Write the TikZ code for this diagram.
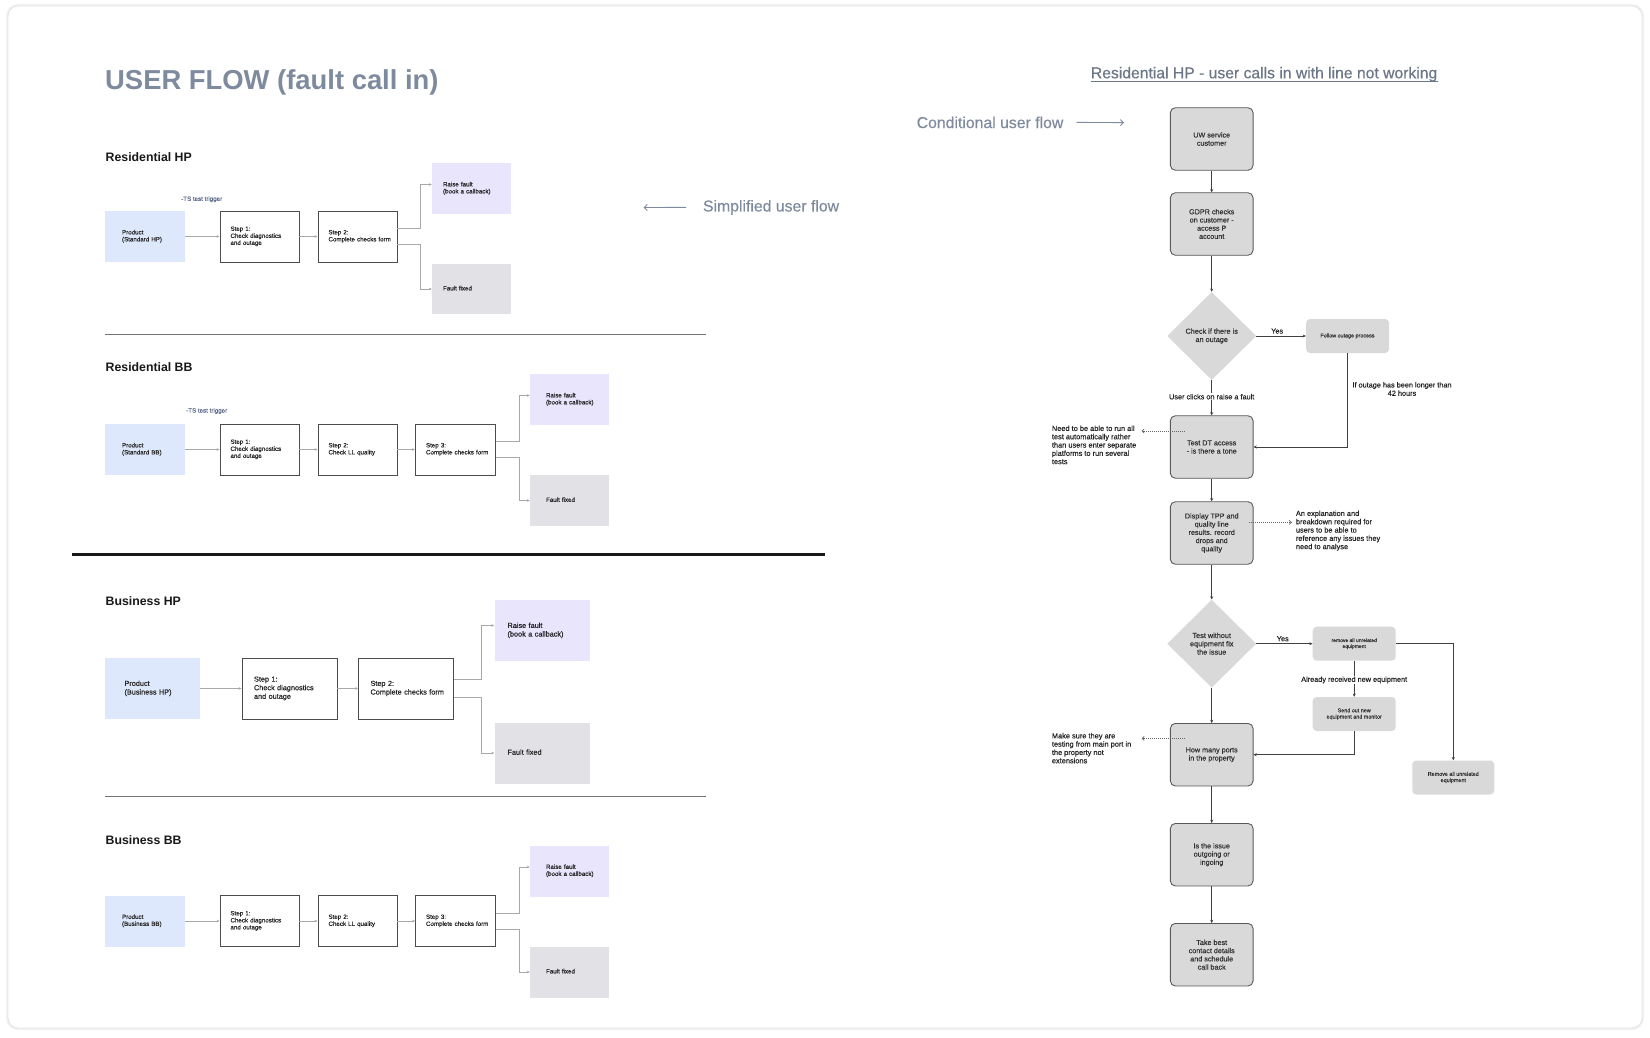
\documentclass[tikz,border=0pt]{standalone}
\usepackage{fontspec}
\setmainfont{Liberation Sans}
\newfontfamily\medium[FakeBold=0.4]{Liberation Sans}
\usetikzlibrary{arrows.meta,shapes.geometric,calc}
\definecolor{prodblue}{HTML}{DDE8FC}
\definecolor{raisepurp}{HTML}{E8E5FD}
\definecolor{fixgray}{HTML}{E1E1E6}
\definecolor{slate}{HTML}{7E8A9D}
\definecolor{slatedark}{HTML}{6B7686}
\definecolor{flowgray}{HTML}{D9D9D9}
\definecolor{conngray}{HTML}{A8A8A8}
\definecolor{tsblue}{HTML}{5B6B8C}
\newcommand\fsz[2]{\fontsize{#1pt}{#2pt}\selectfont}
\newcommand\ltab[1]{\begin{tabular}{@{}l@{}}#1\end{tabular}}
\tikzset{
  lbox/.style={inner ysep=0pt, align=left, font=\medium\fsz{6.2}{7}, text=black!85},
  prodbox/.style={lbox, fill=prodblue},
  stepbox/.style={lbox, fill=white, draw=black!70, line width=0.9pt},
  raisebx/.style={lbox, fill=raisepurp},
  fixbox/.style={lbox, fill=fixgray},
  conn/.style={draw=conngray, line width=0.8pt, -{Stealth[length=3pt,width=2.6pt]}},
  fbox/.style={draw=black!65, line width=0.9pt, fill=flowgray, rounded corners=5pt, minimum width=82.7pt, minimum height=62.5pt, align=center, font=\medium\fsz{7.2}{8.2}, text=black!80, inner sep=0pt},
  sbox/.style={fill=flowgray, rounded corners=4pt, minimum width=83pt, minimum height=34pt, align=center, font=\medium\fsz{5.4}{6.3}, text=black!80, inner sep=0pt},
  dmd/.style={diamond, fill=flowgray, minimum width=89pt, minimum height=88pt, inner sep=0pt, align=center, font=\medium\fsz{7.3}{8.3}, text=black!80},
  fconn/.style={draw=black!75, line width=0.8pt, -{Stealth[length=3.2pt,width=3pt]}},
  dotarr/.style={draw=black!60, line width=0.7pt, dash pattern=on 1pt off 1pt, -{Straight Barb[length=2pt,width=4pt]}},
  note/.style={align=left, font=\medium\fsz{7.4}{8.3}, text=black!85, inner sep=0pt, anchor=north west},
  lab/.style={font=\medium\fsz{7.3}{8.3}, text=black!85, inner sep=1pt},
  sectitle/.style={font=\bfseries\fsz{12.3}{14}, text=black!90, anchor=base west, inner sep=0pt},
  tstext/.style={font=\medium\fsz{6.2}{7}, text=tsblue, anchor=west, inner sep=0pt},
  slatearr/.style={draw=slate, line width=0.9pt, -{Straight Barb[length=3pt,width=6pt]}},
  sepline/.style={draw=black!55, line width=0.9pt},
}
\begin{document}
\begin{tikzpicture}[x=1pt,y=-1pt]
\useasboundingbox (0,0) rectangle (1650,1038);
\fill[white] (0,0) rectangle (1650,1038);
\draw[black!5, line width=4pt, rounded corners=10pt] (8,6) rectangle (1642,1028);
\draw[black!11, line width=0.8pt, rounded corners=10pt, fill=white] (8,6) rectangle (1642,1028);

% ---------- titles ----------
\node[font=\bfseries\fsz{27.4}{32}, text=slate, anchor=base west, inner sep=0pt] (title) at (105,90) {USER FLOW (fault call in)};
\node[font=\medium\fsz{15.8}{18}, text=slate, anchor=west, inner sep=0pt] (simp) at (702.8,207.4) {Simplified user flow};
\coordinate (simpEnd) at (643.7,207.5);
\draw[slatearr] ([xshift=-16.8pt]simp.west) -- (simpEnd);
\node[font=\medium\fsz{15.8}{18}, text=slate, anchor=west, inner sep=0pt] (cond) at (916.5,122.4) {Conditional user flow};
\coordinate (condEnd) at (1124,122.6);
\draw[slatearr] ([xshift=13pt]cond.east) -- (condEnd);
\node[font=\medium\fsz{15.7}{18}, text=slatedark, anchor=base west, inner sep=0pt] (rtitle) at (1090.7,78.3) {Residential HP - user calls in with line not working};
\draw[slatedark, line width=0.9pt] ([yshift=-2.8pt]rtitle.base west) -- ([yshift=-2.8pt]rtitle.base east);

% ---------- Residential HP ----------
\node[sectitle] (t1) at (105.5,161.3) {Residential HP};
\node[tstext] (ts1) at (181,199.3) {-TS test trigger};
\node[prodbox, minimum height=51pt, text width=46pt, inner xsep=17pt] (hpP) at (145,236.5) {\ltab{Product\\(Standard HP)}};
\node[stepbox, minimum height=51pt, text width=58pt, inner xsep=10.5pt] (hp1) at (259.5,236.5) {\ltab{Step 1:\\Check diagnostics\\and outage}};
\node[stepbox, minimum height=51pt, text width=58pt, inner xsep=10.5pt] (hp2) at (357.5,236.5) {\ltab{Step 2:\\Complete checks form}};
\node[raisebx, minimum height=51pt, text width=57pt, inner xsep=11pt] (hpR) at (471.5,188.5) {\ltab{Raise fault\\(book a callback)}};
\node[fixbox, minimum height=50pt, text width=57pt, inner xsep=11pt] (hpF) at (471.5,289) {\ltab{Fault fixed}};
\draw[conn] (hpP.east) -- (hp1.west);
\draw[conn] (hp1.east) -- (hp2.west);
\draw[conn] ([yshift=8pt]hp2.east) -- ++(23,0) |- ([yshift=4pt]hpR.west);
\draw[conn] ([yshift=-8pt]hp2.east) -- ++(23,0) |- (hpF.west);
\draw[sepline] (105,334.6) -- (706,334.6);

% ---------- Residential BB ----------
\node[sectitle] (t2) at (105.5,371.5) {Residential BB};
\node[tstext] (ts2) at (186,411) {-TS test trigger};
\node[prodbox, minimum height=51pt, text width=46pt, inner xsep=17pt] (bbP) at (145,449.5) {\ltab{Product\\(Standard BB)}};
\node[stepbox, minimum height=51pt, text width=58pt, inner xsep=10.5pt] (bb1) at (259.5,449.5) {\ltab{Step 1:\\Check diagnostics\\and outage}};
\node[stepbox, minimum height=51pt, text width=58pt, inner xsep=10.5pt] (bb2) at (357.5,449.5) {\ltab{Step 2:\\Check LL quality}};
\node[stepbox, minimum height=51pt, text width=59pt, inner xsep=10.5pt] (bb3) at (455.5,449.5) {\ltab{Step 3:\\Complete checks form}};
\node[raisebx, minimum height=51pt, text width=47pt, inner xsep=16pt] (bbR) at (569.5,399.5) {\ltab{Raise fault\\(book a callback)}};
\node[fixbox, minimum height=51pt, text width=47pt, inner xsep=16pt] (bbF) at (569.5,500.5) {\ltab{Fault fixed}};
\draw[conn] (bbP.east) -- (bb1.west);
\draw[conn] (bb1.east) -- (bb2.west);
\draw[conn] (bb2.east) -- (bb3.west);
\draw[conn] ([yshift=8pt]bb3.east) -- ++(23,0) |- ([yshift=4pt]bbR.west);
\draw[conn] ([yshift=-8pt]bb3.east) -- ++(23,0) |- (bbF.west);
\draw[black!90, line width=2.5pt] (71.6,554.6) -- (825,554.6);

% ---------- Business HP ----------
\node[sectitle] (t3) at (105.5,605) {Business HP};
\node[prodbox, font=\medium\fsz{7.3}{8.6}, minimum height=61pt, text width=56pt, inner xsep=19.5pt] (bzP) at (152.5,688.5) {\ltab{Product\\(Business HP)}};
\node[stepbox, font=\medium\fsz{7.3}{8.6}, minimum height=61pt, text width=71pt, inner xsep=12pt] (bz1) at (289.5,688.5) {\ltab{Step 1:\\Check diagnostics\\and outage}};
\node[stepbox, font=\medium\fsz{7.3}{8.6}, minimum height=61pt, text width=71pt, inner xsep=12pt] (bz2) at (406,688.5) {\ltab{Step 2:\\Complete checks form}};
\node[raisebx, font=\medium\fsz{7.3}{8.6}, minimum height=61pt, text width=69pt, inner xsep=13pt] (bzR) at (542,630.5) {\ltab{Raise fault\\(book a callback)}};
\node[fixbox, font=\medium\fsz{7.3}{8.6}, minimum height=61pt, text width=69pt, inner xsep=13pt] (bzF) at (542,753) {\ltab{Fault fixed}};
\draw[conn] (bzP.east) -- (bz1.west);
\draw[conn] (bz1.east) -- (bz2.west);
\draw[conn] ([yshift=9pt]bz2.east) -- ++(27.5,0) |- ([yshift=5pt]bzR.west);
\draw[conn] ([yshift=-9pt]bz2.east) -- ++(27.5,0) |- (bzF.west);
\draw[sepline] (105,796.6) -- (706,796.6);

% ---------- Business BB ----------
\node[sectitle] (t4) at (105.5,844) {Business BB};
\node[prodbox, minimum height=51pt, text width=46pt, inner xsep=17pt] (xbP) at (145,921) {\ltab{Product\\(Business BB)}};
\node[stepbox, minimum height=51pt, text width=58pt, inner xsep=10.5pt] (xb1) at (259.5,921) {\ltab{Step 1:\\Check diagnostics\\and outage}};
\node[stepbox, minimum height=51pt, text width=58pt, inner xsep=10.5pt] (xb2) at (357.5,921) {\ltab{Step 2:\\Check LL quality}};
\node[stepbox, minimum height=51pt, text width=59pt, inner xsep=10.5pt] (xb3) at (455.5,921) {\ltab{Step 3:\\Complete checks form}};
\node[raisebx, minimum height=51pt, text width=47pt, inner xsep=16pt] (xbR) at (569.5,871) {\ltab{Raise fault\\(book a callback)}};
\node[fixbox, minimum height=51pt, text width=47pt, inner xsep=16pt] (xbF) at (569.5,972) {\ltab{Fault fixed}};
\draw[conn] (xbP.east) -- (xb1.west);
\draw[conn] (xb1.east) -- (xb2.west);
\draw[conn] (xb2.east) -- (xb3.west);
\draw[conn] ([yshift=8pt]xb3.east) -- ++(23,0) |- ([yshift=4pt]xbR.west);
\draw[conn] ([yshift=-8pt]xb3.east) -- ++(23,0) |- (xbF.west);

% ---------- conditional flow ----------
\node[fbox] (uw) at (1211.7,139) {UW service\\customer};
\node[fbox] (gdpr) at (1211.7,224) {GDPR checks\\on customer -\\access P\\account};
\node[dmd] (d1) at (1211.7,336) {Check if there is\\an outage};
\node[sbox] (outage) at (1347.5,336) {Follow outage process};
\node[fbox] (testdt) at (1211.7,447) {Test DT access\\- is there a tone};
\node[fbox] (tpp) at (1211.7,533) {Display TPP and\\quality line\\results. record\\drops and\\quality};
\node[dmd] (d2) at (1211.7,643.7) {Test without\\equipment fix\\the issue};
\node[sbox, font=\medium\fsz{5}{6}] (rem1) at (1354.2,643.7) {remove all unrelated\\equipment};
\node[sbox, font=\medium\fsz{5.4}{6.3}] (send) at (1354.2,714) {Send out new\\equipment and monitor};
\node[sbox, minimum width=82pt] (remall) at (1453.3,777.5) {Remove all unrelated\\equipment};
\node[fbox] (ports) at (1211.7,754.7) {How many ports\\in the property};
\node[fbox] (issue) at (1211.7,854.7) {Is the issue\\outgoing or\\ingoing};
\node[fbox] (take) at (1211.7,954.7) {Take best\\contact details\\and schedule\\call back};

\node[lab, align=center] (olab) at (1402,389) {If outage has been longer than\\42 hours};

\draw[fconn] (uw.south) -- (gdpr.north);
\draw[fconn] (gdpr.south) -- (d1.north);
\draw[fconn] (d1.east) -- node[lab, above, pos=0.42, yshift=1pt] {Yes} (outage.west);
\draw[fconn] (d1.south) -- node[lab, fill=white, pos=0.47] {User clicks on raise a fault} (testdt.north);
\draw[fconn] (outage.south) |- (testdt.east);
\draw[fconn] (testdt.south) -- (tpp.north);
\draw[fconn] (tpp.south) -- (d2.north);
\draw[fconn] (d2.east) -- node[lab, above, pos=0.47, yshift=1pt] {Yes} (rem1.west);
\draw[fconn] (rem1.south) -- node[lab, fill=white, pos=0.53] {Already received new equipment} (send.north);
\draw[fconn] (rem1.east) -| (remall.north);
\draw[fconn] (send.south) |- (ports.east);
\draw[fconn] (d2.south) -- (ports.north);
\draw[fconn] (ports.south) -- (issue.north);
\draw[fconn] (issue.south) -- (take.north);

% ---------- notes ----------
\node[note] (n1) at (1051.7,425.4) {Need to be able to run all\\test automatically rather\\than users enter separate\\platforms to run several\\tests};
\node[note] (n2) at (1295.7,510.4) {An explanation and\\breakdown required for\\users to be able to\\reference any issues they\\need to analyse};
\node[note] (n3) at (1051.7,732.8) {Make sure they are\\testing from main port in\\the property not\\extensions};
\coordinate (e1) at (1141.7,431);
\coordinate (e2) at (1291.7,522.3);
\coordinate (e3) at (1141.7,738.3);
\draw[dotarr] ([shift={(15,-16)}]testdt.west) -- (e1);
\draw[dotarr] ([shift={(-4.7,-10.7)}]tpp.east) -- (e2);
\draw[dotarr] ([shift={(15,-16.4)}]ports.west) -- (e3);
\end{tikzpicture}
\end{document}
